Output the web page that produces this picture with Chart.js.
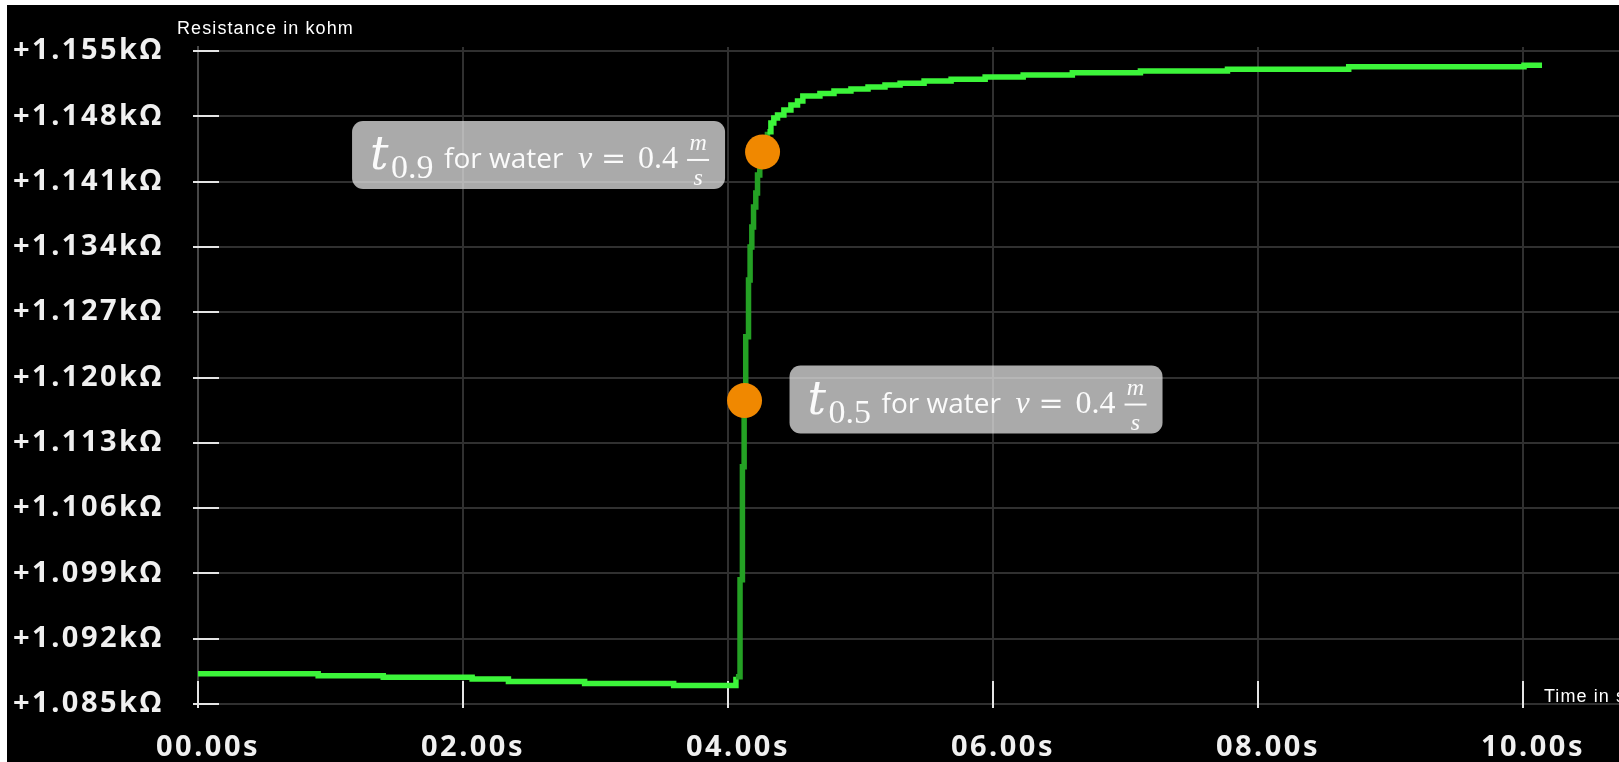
<!DOCTYPE html>
<html>
<head>
<meta charset="utf-8">
<script src="https://cdn.jsdelivr.net/npm/chart.js@4.4.1/dist/chart.umd.min.js"></script>
<style>
  html, body { margin: 0; padding: 0; background: #000; overflow: hidden; }
  #wrap { position: relative; width: 1619px; height: 762px; }
  canvas { display: block; }
</style>
</head>
<body>
<div id="wrap"><canvas id="chart" width="1619" height="762"></canvas></div>
<script>
// Sensor resistance step response (stepped samples: each value holds until the next time)
const timeSec = [
  0.000, 0.907, 1.398, 2.069, 2.343, 2.918, 3.590, 4.060, 4.091, 4.109,
  4.122, 4.134, 4.155, 4.167, 4.180, 4.193, 4.210, 4.223, 4.240, 4.261,
  4.278, 4.298, 4.324, 4.346, 4.374, 4.422, 4.475, 4.525, 4.565, 4.694,
  4.800, 4.928, 5.057, 5.185, 5.299, 5.480, 5.684, 5.941, 6.228, 6.599,
  7.113, 7.770, 8.685, 10.008, 10.144
];
const resistanceKOhm = [
  1.08825, 1.08803, 1.08787, 1.08768, 1.08742, 1.08721, 1.08699, 1.08792, 1.09832, 1.11043,
  1.11753, 1.12436, 1.13046, 1.13400, 1.13614, 1.13828, 1.13978, 1.14171, 1.14340, 1.14418,
  1.14546, 1.14635, 1.14729, 1.14782, 1.14814, 1.14868, 1.14921, 1.14964, 1.15018, 1.15045,
  1.15071, 1.15093, 1.15114, 1.15136, 1.15154, 1.15179, 1.15197, 1.15221, 1.15243, 1.15267,
  1.15286, 1.15304, 1.15332, 1.15347, 1.15347
];

// Response-time markers t0.5 and t0.9
const markerTimes = [4.125, 4.261];
const markerValues = [1.11753, 1.14418];
const markerSubscripts = ['0.5', '0.9'];

// Axis ticks
const yTickValues = [1.085, 1.092, 1.099, 1.106, 1.113, 1.120, 1.127, 1.134, 1.141, 1.148, 1.155];
const xTickValues = [0, 2, 4, 6, 8, 10];

const GREEN = '#3cf53a';
const GREEN_STEEP = '#24a124';
const TICK_FONT = { family: '"Noto Sans", "Open Sans", sans-serif', size: 29, weight: 'bold' };

function drawTag(ctx, L, T, sub) {
  ctx.save();
  ctx.letterSpacing = '0px';
  ctx.fillStyle = 'rgba(230,230,230,0.74)';
  ctx.beginPath();
  ctx.roundRect(L, T, 373, 68, 11);
  ctx.fill();
  ctx.fillStyle = '#fbfbfb';
  ctx.textBaseline = 'alphabetic';
  ctx.textAlign = 'left';
  ctx.font = 'italic 46px "DejaVu Serif"';
  ctx.fillText('t', L + 18, T + 48);
  ctx.font = '34px "Liberation Serif"';
  ctx.fillText(sub, L + 39, T + 57);
  ctx.font = '28px "Open Sans"';
  ctx.fillText('for water', L + 92, T + 47);
  ctx.font = 'italic 32px "Liberation Serif"';
  ctx.fillText('v', L + 226, T + 47);
  ctx.font = '30px "DejaVu Serif"';
  ctx.fillText('=', L + 249, T + 47);
  ctx.font = '32px "Liberation Serif"';
  ctx.fillText('0.4', L + 286, T + 47);
  ctx.textAlign = 'center';
  ctx.font = 'italic 24px "Liberation Serif"';
  ctx.fillText('m', L + 346, T + 29);
  ctx.fillText('s', L + 346, T + 64);
  ctx.fillRect(L + 335, T + 38, 22, 2);
  ctx.restore();
}

const overlay = {
  id: 'overlay',
  beforeDraw(chart) {
    chart.ctx.letterSpacing = '2.5px';
  },
  beforeDatasetsDraw(chart) {
    const { ctx, chartArea: a, scales: { x, y } } = chart;
    ctx.letterSpacing = '0px';
    ctx.save();
    ctx.strokeStyle = '#e4e4e4';
    ctx.lineWidth = 2;
    yTickValues.forEach(v => {
      const py = Math.round(y.getPixelForValue(v));
      ctx.beginPath();
      ctx.moveTo(a.left - 5, py);
      ctx.lineTo(a.left + 21, py);
      ctx.stroke();
    });
    xTickValues.forEach(v => {
      const px = Math.round(x.getPixelForValue(v));
      ctx.beginPath();
      ctx.moveTo(px, a.bottom + 4);
      ctx.lineTo(px, a.bottom - 23);
      ctx.stroke();
    });
    ctx.restore();
  },
  afterDraw(chart) {
    const { ctx, chartArea: a, scales: { x, y } } = chart;
    ctx.save();
    // axis titles
    ctx.letterSpacing = '1.1px';
    ctx.fillStyle = '#ffffff';
    ctx.font = '18px "Liberation Sans", Arial, sans-serif';
    ctx.textBaseline = 'middle';
    ctx.textAlign = 'left';
    ctx.fillText('Resistance in kohm', a.left - 21, a.top - 18);
    ctx.fillText('Time in s', x.getPixelForValue(10) + 21, a.bottom - 7);
    ctx.restore();

    // annotation tags beside the markers
    const p0x = x.getPixelForValue(markerTimes[0]);
    const p0y = y.getPixelForValue(markerValues[0]);
    const p1x = x.getPixelForValue(markerTimes[1]);
    const p1y = y.getPixelForValue(markerValues[1]);
    drawTag(ctx, p0x + 45, p0y - 35, markerSubscripts[0]);
    drawTag(ctx, p1x - 410.5, p1y - 31, markerSubscripts[1]);

    // light frame edge on the left and top
    ctx.save();
    ctx.fillStyle = '#ffffff';
    ctx.fillRect(0, 0, 7, chart.height);
    ctx.fillRect(0, 0, chart.width, 5);
    ctx.restore();
  }
};

const linePoints = timeSec.map((t, i) => ({ x: t, y: resistanceKOhm[i] }));
const markerPoints = markerTimes.map((t, i) => ({ x: t, y: markerValues[i] }));

new Chart(document.getElementById('chart'), {
  type: 'line',
  data: {
    datasets: [
      {
        type: 'scatter',
        data: markerPoints,
        pointRadius: 17.5,
        pointHoverRadius: 17.5,
        backgroundColor: '#f08800',
        borderWidth: 0,
        order: 0
      },
      {
        data: linePoints,
        stepped: 'before',
        borderColor: GREEN,
        borderWidth: 5.5,
        pointRadius: 0,
        fill: false,
        order: 1,
        segment: {
          borderColor: c => {
            const dx = Math.abs(c.p1.x - c.p0.x);
            const dy = Math.abs(c.p1.y - c.p0.y);
            return dy > 3 * dx ? GREEN_STEEP : GREEN;
          }
        }
      }
    ]
  },
  options: {
    responsive: false,
    animation: false,
    events: [],
    layout: { autoPadding: false, padding: { left: 13, top: 47, right: 0, bottom: 0 } },
    plugins: { legend: { display: false }, tooltip: { enabled: false } },
    scales: {
      x: {
        type: 'linear',
        min: 0,
        max: 10.725,
        afterBuildTicks: s => { s.ticks = xTickValues.map(v => ({ value: v })); },
        afterFit: s => { s.height = 58; },
        grid: { color: '#303030', lineWidth: 2, drawTicks: false },
        border: { display: false },
        ticks: {
          autoSkip: false,
          maxRotation: 0,
          padding: 26,
          labelOffset: 10,
          color: '#f0f0f0',
          font: TICK_FONT,
          callback: v => Number(v).toFixed(2).padStart(5, '0') + 's'
        }
      },
      y: {
        type: 'linear',
        min: 1.085,
        max: 1.15543,
        afterBuildTicks: s => { s.ticks = yTickValues.map(v => ({ value: v })); },
        afterFit: s => { s.width = 185; },
        grid: { color: '#303030', lineWidth: 2, drawTicks: false },
        border: { display: true, color: '#474747', width: 2 },
        ticks: {
          autoSkip: false,
          crossAlign: 'far',
          padding: 0,
          color: '#f0f0f0',
          font: TICK_FONT,
          callback: v => '+' + Number(v).toFixed(3) + 'kΩ'
        }
      }
    }
  },
  plugins: [overlay]
});
</script>
</body>
</html>
